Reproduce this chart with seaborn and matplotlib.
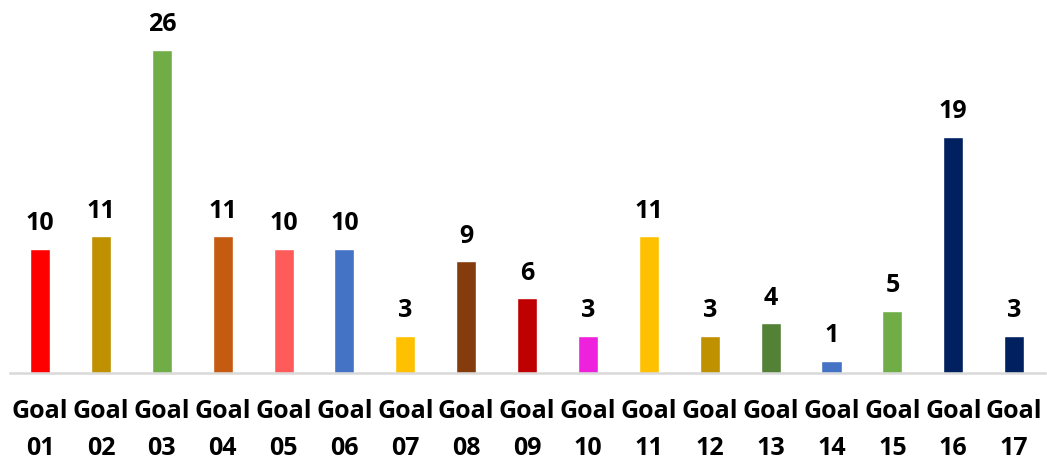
import matplotlib
matplotlib.use("Agg")
import matplotlib.pyplot as plt
import seaborn as sns
import pandas as pd

goals = ["Goal\n01", "Goal\n02", "Goal\n03", "Goal\n04", "Goal\n05", "Goal\n06",
         "Goal\n07", "Goal\n08", "Goal\n09", "Goal\n10", "Goal\n11", "Goal\n12",
         "Goal\n13", "Goal\n14", "Goal\n15", "Goal\n16", "Goal\n17"]
counts = [10, 11, 26, 11, 10, 10, 3, 9, 6, 3, 11, 3, 4, 1, 5, 19, 3]
colors = ["#FF0000", "#BF9000", "#70AD47", "#C55A11", "#FF5B5B", "#4472C4",
          "#FFC000", "#843C0C", "#C00000", "#EE22DD", "#FFC000", "#BF9000",
          "#538135", "#4472C4", "#70AD47", "#002060", "#002060"]

sns.set_theme(style="white")
plt.rcParams['font.family'] = ['Open Sans', 'DejaVu Sans']

df = pd.DataFrame({"goal": goals, "count": counts})

fig = plt.figure(figsize=(10.47, 4.62), dpi=100)
ax = fig.add_axes([9.6/1047, 89/462, 1035/1047, 363/462])
sns.barplot(data=df, x="goal", y="count", hue="goal", palette=colors,
            width=0.33, legend=False, ax=ax, saturation=1)

ax.set_xlim(-0.5, 16.5)
ax.set_ylim(0, 29.2)
for s in ["top", "right", "left"]:
    ax.spines[s].set_visible(False)
ax.spines["bottom"].set_color("#D9D9D9")
ax.spines["bottom"].set_linewidth(1.8)
ax.set_yticks([])
ax.set_xlabel("")
ax.set_ylabel("")
ax.tick_params(axis="x", length=0, pad=19)
for lab in ax.get_xticklabels():
    lab.set_fontsize(18)
    lab.set_fontweight("bold")
    lab.set_color("black")
    lab.set_linespacing(1.6)

for i, v in enumerate(counts):
    ax.annotate(str(v), (i, v), xytext=(0, 9), textcoords="offset points",
                ha="center", va="bottom", fontsize=18, fontweight="bold",
                color="black")

fig.savefig("out.png", dpi=100)
